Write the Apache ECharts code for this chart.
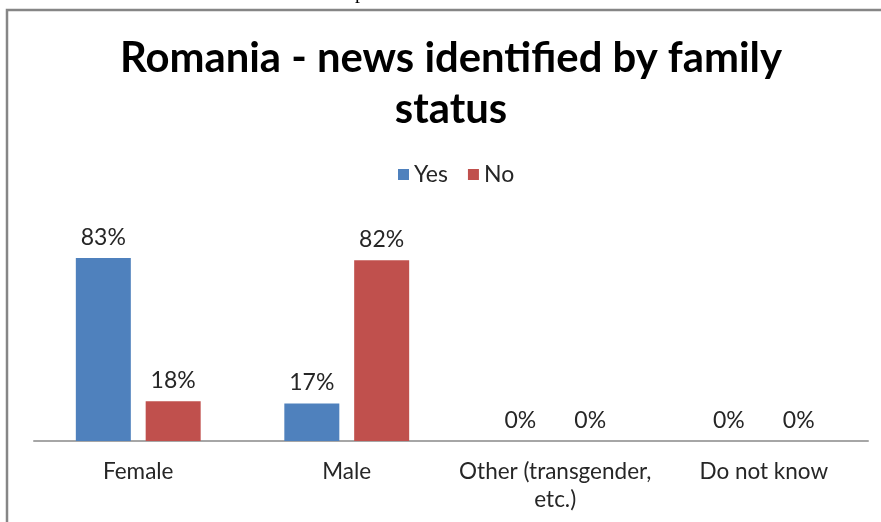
<!DOCTYPE html>
<html>
<head>
<meta charset="utf-8">
<script src="https://cdn.jsdelivr.net/npm/echarts@6/dist/echarts.min.js"></script>
<style>
  html, body { margin: 0; padding: 0; background: #ffffff; }
  #chart { width: 881px; height: 522px; }
</style>
</head>
<body>
<div id="chart"></div>
<script>
// Share of news items by the family status identified (Romania)
const categories = ['Female', 'Male', 'Other (transgender,\netc.)', 'Do not know'];
const yesValues = [83, 17, 0, 0];
const noValues = [18, 82, 0, 0];
const seriesNames = ['Yes', 'No'];

const FONT = 'Lato, "Open Sans", sans-serif';

const chart = echarts.init(document.getElementById('chart'), null, { renderer: 'canvas' });

const labelStyle = {
  show: true,
  position: 'top',
  distance: 9,
  formatter: p => p.value + '%',
  fontFamily: FONT,
  fontSize: 23,
  color: '#262626'
};

chart.setOption({
  backgroundColor: '#ffffff',
  animation: false,
  title: {
    text: 'Romania - news identified by family\nstatus',
    left: 446,
    textAlign: 'center',
    top: 28,
    textStyle: {
      fontFamily: FONT,
      fontWeight: 'bold',
      fontSize: 41.8,
      lineHeight: 51,
      color: '#000000'
    }
  },
  legend: {
    data: seriesNames,
    top: 158,
    left: 393,
    itemWidth: 11,
    itemHeight: 11,
    itemGap: 20,
    icon: 'rect',
    textStyle: { fontFamily: FONT, fontSize: 23, color: '#262626' }
  },
  grid: { left: 34, right: 13, top: 220.5, bottom: 81, containLabel: false },
  xAxis: {
    type: 'category',
    data: categories,
    axisLine: { show: true, lineStyle: { color: '#a6a6a6', width: 2 } },
    axisTick: { show: false },
    axisLabel: {
      interval: 0,
      margin: 17,
      fontFamily: FONT,
      fontSize: 22.5,
      lineHeight: 28,
      color: '#262626'
    }
  },
  yAxis: {
    type: 'value',
    min: 0,
    max: 100,
    show: false,
    splitLine: { show: false }
  },
  series: [
    {
      name: seriesNames[0],
      type: 'bar',
      data: yesValues,
      barWidth: 55,
      barGap: '27%',
      itemStyle: { color: '#4f81bd' },
      label: labelStyle
    },
    {
      name: seriesNames[1],
      type: 'bar',
      data: noValues,
      barWidth: 55,
      itemStyle: { color: '#c0504d' },
      label: labelStyle
    }
  ],
  graphic: [
    {
      type: 'rect',
      shape: { x: 7, y: 10, width: 900, height: 540 },
      style: { fill: 'none', stroke: '#868686', lineWidth: 2.5 },
      silent: true
    },
    {
      type: 'text',
      left: 355,
      top: -17,
      style: { text: 'p', fontFamily: '"Liberation Serif", serif', fontSize: 20, fill: '#000000' },
      silent: true
    }
  ]
});
</script>
</body>
</html>
